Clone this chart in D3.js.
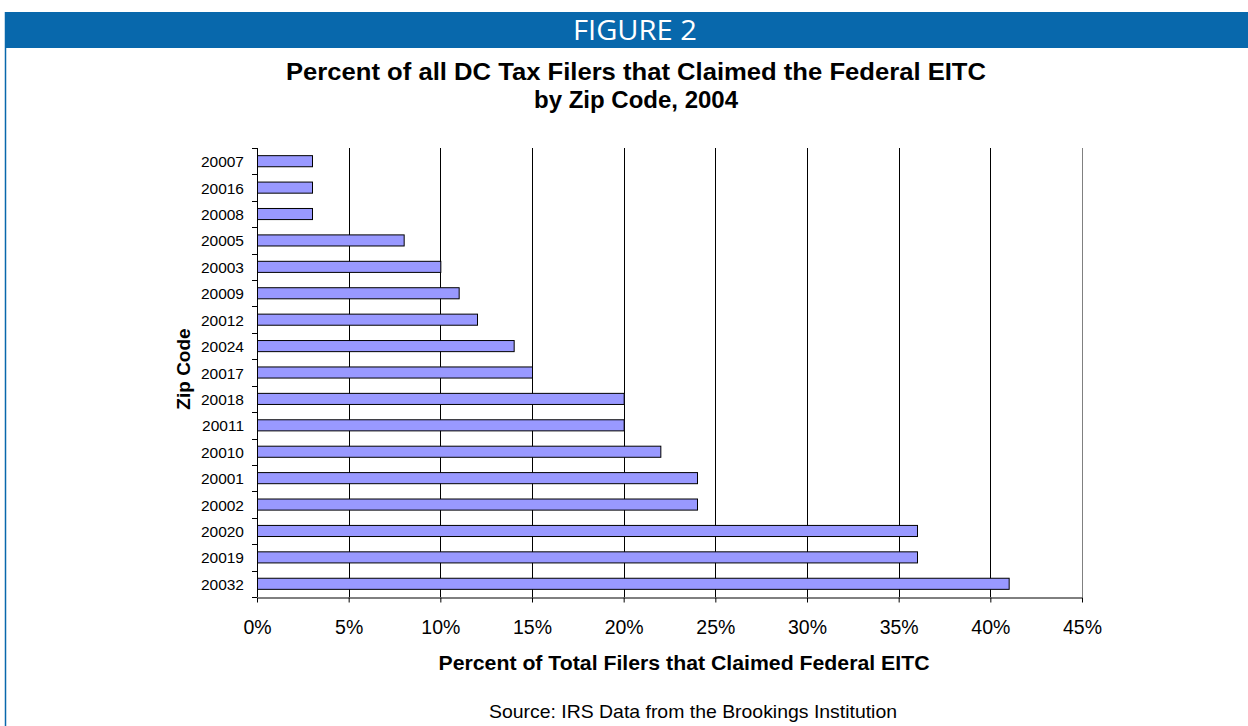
<!DOCTYPE html>
<html>
<head>
<meta charset="utf-8">
<script src="https://cdn.jsdelivr.net/npm/d3@7"></script>
<style>
  html, body { margin: 0; padding: 0; background: #fff; }
  svg { display: block; }
  text { font-family: "Liberation Sans", Arial, sans-serif; }
</style>
</head>
<body>
<svg id="chart" width="1248" height="726"></svg>
<script>
// Zip codes, top to bottom
const zipCodes = ["20007","20016","20008","20005","20003","20009","20012","20024","20017",
                  "20018","20011","20010","20001","20002","20020","20019","20032"];
// Percent of filers claiming the federal EITC
const eitcPercent = [3, 3, 3, 8, 10, 11, 12, 14, 15, 20, 20, 22, 24, 24, 36, 36, 41];
const xTicks = [0, 5, 10, 15, 20, 25, 30, 35, 40, 45];

const svg = d3.select("#chart");
const W = 1248, H = 726;

// Header band and frame
const blue = "#0868ac";
svg.append("rect").attr("x", 5).attr("y", 12).attr("width", W - 5).attr("height", 36).attr("fill", blue);
svg.append("line").attr("x1", 5.5).attr("x2", 5.5).attr("y1", 12).attr("y2", H).attr("stroke", blue).attr("stroke-width", 1.5);
svg.append("text").attr("x", 635).attr("y", 39.5).attr("text-anchor", "middle")
  .attr("fill", "#fff").style("font-family", "'Open Sans', 'Noto Sans', sans-serif")
  .style("font-size", "28px").attr("textLength", 124).attr("lengthAdjust", "spacingAndGlyphs")
  .text("FIGURE 2");

// Titles
svg.append("text").attr("x", 636).attr("y", 80).attr("text-anchor", "middle")
  .style("font-size", "24px").style("font-weight", "bold")
  .attr("textLength", 700).attr("lengthAdjust", "spacingAndGlyphs")
  .text("Percent of all DC Tax Filers that Claimed the Federal EITC");
svg.append("text").attr("x", 636).attr("y", 108).attr("text-anchor", "middle")
  .style("font-size", "24px").style("font-weight", "bold")
  .text("by Zip Code, 2004");

const margin = { left: 257, right: W - 1082, top: 148, bottom: H - 597 };
const x = d3.scaleLinear().domain([0, 45]).range([margin.left, W - margin.right]);
const y = d3.scaleBand().domain(zipCodes).range([margin.top, H - margin.bottom]).paddingInner(0.58).paddingOuter(0.29);

// Vertical gridlines
svg.append("g").selectAll("line").data(xTicks.slice(1)).join("line")
  .attr("x1", d => Math.round(x(d)) + 0.5).attr("x2", d => Math.round(x(d)) + 0.5)
  .attr("y1", margin.top).attr("y2", H - margin.bottom)
  .attr("stroke", d => d === 45 ? "#808080" : "#000").attr("stroke-width", 1);

// Bars
svg.append("g").selectAll("rect").data(zipCodes).join("rect")
  .attr("x", x(0) + 0.5)
  .attr("y", (d) => y(d))
  .attr("width", (d, i) => x(eitcPercent[i]) - x(0))
  .attr("height", y.bandwidth())
  .attr("fill", "#9999ff").attr("stroke", "#000").attr("stroke-width", 1);

// Y axis with ticks between categories
const yAxisG = svg.append("g");
yAxisG.append("line").attr("x1", x(0) + 0.5).attr("x2", x(0) + 0.5)
  .attr("y1", margin.top).attr("y2", H - margin.bottom).attr("stroke", "#000");
const boundaries = d3.range(zipCodes.length + 1).map(i => margin.top + i * (H - margin.top - margin.bottom) / zipCodes.length);
yAxisG.selectAll("line.tick").data(boundaries).join("line").attr("class", "tick")
  .attr("x1", x(0) - 5).attr("x2", x(0))
  .attr("y1", d => Math.round(d) + 0.5).attr("y2", d => Math.round(d) + 0.5).attr("stroke", "#000");
yAxisG.selectAll("text").data(zipCodes).join("text")
  .attr("x", x(0) - 13).attr("y", d => y(d) + y.bandwidth() / 2 + 6)
  .attr("text-anchor", "end").style("font-size", "15.5px").text(d => d);

// X axis
const xAxis = d3.axisBottom(x).tickValues(xTicks).tickFormat(d => d + "%").tickSize(5).tickSizeOuter(0);
const xg = svg.append("g").attr("transform", `translate(0,${H - margin.bottom + 0.5})`).call(xAxis);
xg.select(".domain").attr("stroke", "#000");
xg.selectAll(".tick line").attr("stroke", "#000");
xg.selectAll(".tick text").attr("dy", 0).attr("y", 36.5).attr("fill", "#000")
  .style("font-size", "19.5px").style("font-family", "'Liberation Sans', Arial, sans-serif");

// Axis titles
svg.append("text").attr("x", 684).attr("y", 670).attr("text-anchor", "middle")
  .style("font-size", "20px").style("font-weight", "bold")
  .attr("textLength", 491).attr("lengthAdjust", "spacingAndGlyphs")
  .text("Percent of Total Filers that Claimed Federal EITC");
svg.append("text").attr("transform", "translate(190,369) rotate(-90)").attr("text-anchor", "middle")
  .style("font-size", "19px").style("font-weight", "bold").text("Zip Code");

// Source note
svg.append("text").attr("x", 693).attr("y", 718).attr("text-anchor", "middle")
  .style("font-size", "19px").attr("textLength", 408).attr("lengthAdjust", "spacingAndGlyphs")
  .text("Source: IRS Data from the Brookings Institution");
</script>
</body>
</html>
